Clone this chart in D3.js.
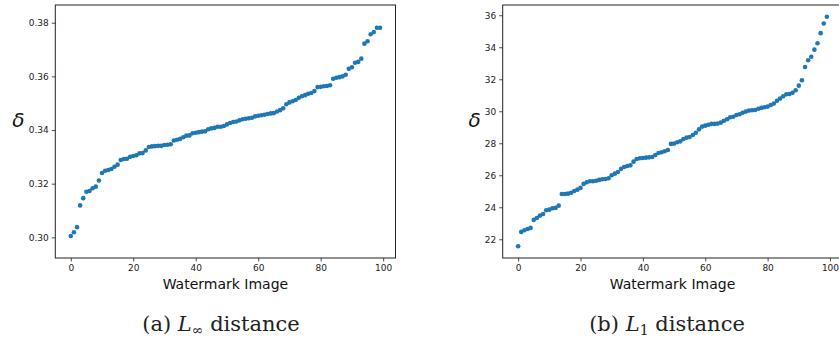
<!DOCTYPE html>
<html><head><meta charset="utf-8">
<script src="https://cdn.jsdelivr.net/npm/d3@7"></script>
<style>body{margin:0;background:#fff}svg{display:block}</style>
</head><body><svg id="c" width="839" height="339"></svg>
<script>
const xTicks = [0, 20, 40, 60, 80, 100];
const yTicksA = [0.30, 0.32, 0.34, 0.36, 0.38];
const yTicksB = [22, 24, 26, 28, 30, 32, 34, 36];
const xLabel = "Watermark Image";
const yLabel = "δ";
const captionA = ["(a) ", "L", "∞", " distance"];
const captionB = ["(b) ", "L", "1", " distance"];

const linfDist = [0.3005,0.3019,0.3038,0.3119,0.3146,0.3170,0.3173,0.3183,0.3189,0.3212,
 0.3240,0.3248,0.3251,0.3255,0.3263,0.3271,0.3288,0.3292,0.3293,0.3300,
 0.3303,0.3306,0.3313,0.3314,0.3324,0.3337,0.3339,0.3340,0.3341,0.3341,
 0.3344,0.3345,0.3347,0.3361,0.3364,0.3367,0.3373,0.3379,0.3380,0.3388,
 0.3390,0.3392,0.3394,0.3395,0.3403,0.3406,0.3408,0.3412,0.3412,0.3415,
 0.3421,0.3426,0.3430,0.3432,0.3436,0.3440,0.3442,0.3444,0.3446,0.3451,
 0.3453,0.3455,0.3457,0.3460,0.3462,0.3463,0.3469,0.3474,0.3481,0.3496,
 0.3503,0.3507,0.3512,0.3520,0.3526,0.3530,0.3535,0.3538,0.3545,0.3560,
 0.3561,0.3563,0.3564,0.3567,0.3591,0.3595,0.3597,0.3600,0.3606,0.3628,
 0.3634,0.3651,0.3654,0.3666,0.3722,0.3731,0.3757,0.3765,0.3781,0.3781];

const l1Dist = [21.56,22.46,22.56,22.64,22.71,23.21,23.33,23.48,23.58,23.81,
 23.85,23.94,23.96,24.10,24.83,24.83,24.85,24.91,25.02,25.10,
 25.21,25.46,25.56,25.63,25.63,25.66,25.71,25.75,25.77,25.81,
 26.00,26.10,26.20,26.40,26.52,26.58,26.62,26.85,27.02,27.06,
 27.08,27.10,27.12,27.14,27.27,27.39,27.44,27.50,27.58,27.96,
 27.98,28.06,28.12,28.27,28.35,28.39,28.52,28.66,28.87,29.04,
 29.10,29.16,29.21,29.21,29.23,29.29,29.41,29.50,29.63,29.66,
 29.77,29.81,29.91,29.98,30.04,30.06,30.08,30.16,30.21,30.25,
 30.29,30.39,30.48,30.66,30.79,30.94,31.06,31.08,31.16,31.31,
 31.60,31.94,32.77,33.19,33.41,33.85,34.25,34.88,35.48,35.91];

const svg = d3.select("#c");
const dotColor = "#1f77b4";

function panel(cfg) {
  const x = d3.scaleLinear().domain([-4.95, 103.95]).range([cfg.x0, cfg.x1]);
  const y = d3.scaleLinear().domain(cfg.yDomain).range([cfg.y1, cfg.y0]);
  const g = svg.append("g");

  g.append("g").selectAll("circle").data(cfg.values).join("circle")
    .attr("cx", (d, i) => x(i)).attr("cy", d => y(d)).attr("r", 2.3)
    .attr("fill", dotColor);

  g.append("rect").attr("x", cfg.x0).attr("y", cfg.y0)
    .attr("width", cfg.x1 - cfg.x0).attr("height", cfg.y1 - cfg.y0)
    .attr("fill", "none").attr("stroke", "#222").attr("stroke-width", 1);

  const xa = g.append("g").attr("transform", `translate(0,${cfg.y1})`)
    .call(d3.axisBottom(x).tickValues(xTicks).tickSize(3.5).tickPadding(3).tickFormat(d3.format("d")));
  const ya = g.append("g").attr("transform", `translate(${cfg.x0},0)`)
    .call(d3.axisLeft(y).tickValues(cfg.yTicks).tickSize(3.5).tickPadding(3).tickFormat(cfg.fmt));
  [xa, ya].forEach(a => {
    a.select(".domain").remove();
    a.selectAll("line").attr("stroke", "#222").attr("stroke-width", 0.8);
    a.selectAll("text").attr("font-family", "DejaVu Sans").attr("font-size", 9).attr("fill", "#222");
  });

  g.append("text").attr("x", (cfg.x0 + cfg.x1) / 2).attr("y", 289)
    .attr("text-anchor", "middle").attr("font-family", "DejaVu Sans").attr("font-size", 14)
    .attr("fill", "#111").text(xLabel);

  g.append("text").attr("x", cfg.x0 - cfg.dOff).attr("y", 127)
    .attr("text-anchor", "middle").attr("font-family", "DejaVu Sans").attr("font-style", "italic")
    .attr("font-size", 20).attr("fill", "#111").text(yLabel);

  const cap = g.append("text").attr("x", cfg.capX).attr("y", 331)
    .attr("text-anchor", "middle").attr("font-family", "DejaVu Serif").attr("font-size", 21)
    .attr("fill", "#222");
  cap.append("tspan").text(cfg.caption[0]);
  cap.append("tspan").attr("font-style", "italic").text(cfg.caption[1]);
  cap.append("tspan").attr("font-size", 14).attr("dy", 4).text(cfg.caption[2]);
  cap.append("tspan").attr("dy", -4).text(cfg.caption[3]);
}

panel({x0: 55.3, x1: 395.5, y0: 5, y1: 258, yDomain: [0.2923, 0.3866], yTicks: yTicksA,
  fmt: d3.format(".2f"), values: linfDist, caption: captionA, capX: 221, dOff: 37});
panel({x0: 502.7, x1: 842.3, y0: 5, y1: 258, yDomain: [20.83, 36.64], yTicks: yTicksB,
  fmt: d3.format("d"), values: l1Dist, caption: captionB, capX: 667, dOff: 28});
</script></body></html>
